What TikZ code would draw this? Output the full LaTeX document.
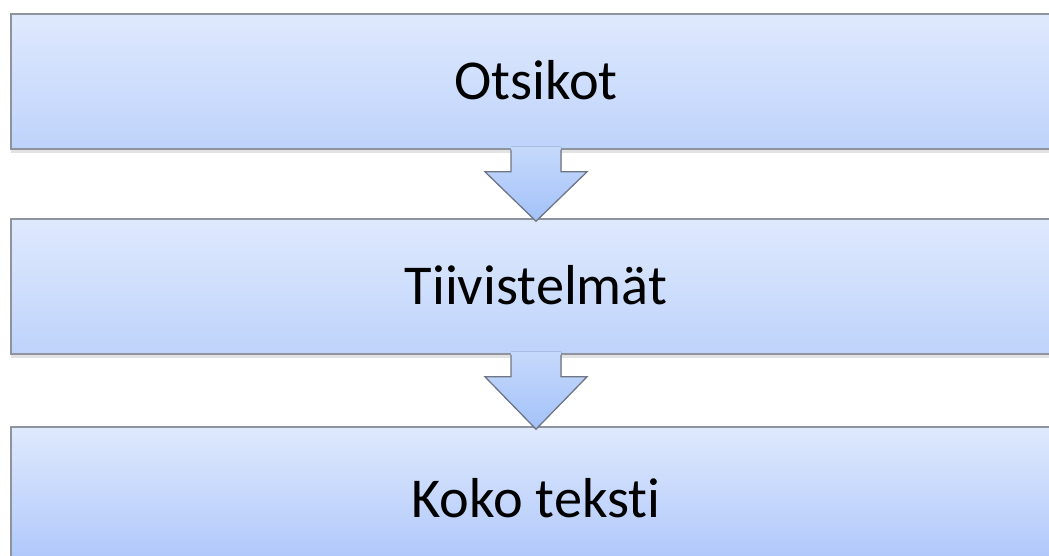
\documentclass[tikz,border=0pt]{standalone}
\usepackage{fontspec}
\setmainfont[Ligatures={NoCommon}]{Carlito}
\usetikzlibrary{calc,shadows}
\definecolor{boxtop}{HTML}{DFE9FD}
\definecolor{boxbot}{HTML}{BED3FB}
\definecolor{boxbotB}{HTML}{ABC5FA}
\definecolor{arrtop}{HTML}{C6D9FB}
\definecolor{arrbot}{HTML}{A3C1F9}
\definecolor{boxline}{HTML}{8E939C}
\definecolor{arrline}{HTML}{6E7686}
\tikzset{
  stagebox/.style={draw=boxline, line width=1.6pt, top color=boxtop, bottom color=boxbot,
    minimum width=1050pt, minimum height=135pt, inner sep=0pt,
    text height=36.2pt, text depth=0pt,
    font=\fontsize{56.3}{62}\selectfont,
    drop shadow={opacity=0.22, shadow xshift=0pt, shadow yshift=-4pt}},
  arrowfill/.style={top color=arrtop, bottom color=arrbot, draw=none},
  arrowline/.style={draw=arrline, line width=1.3pt, line join=miter},
}
\begin{document}
\begin{tikzpicture}[x=1pt,y=-1pt]
\useasboundingbox (0,0) rectangle (1049,556);
\clip (0,0) rectangle (1049,556);
\node[stagebox] (b1) at (536,81.5) {Otsikot};
\node[stagebox] (b2) at (536,286.5) {Tiivistelmät};
\node[stagebox, bottom color=boxbotB, minimum height=145pt] (b3) at (536,499.5) {Koko teksti};
\foreach \a/\b in {b1/b2, b2/b3} {
  \coordinate (s) at (\a.south);
  \coordinate (t) at (\b.north);
  \fill[arrowfill] ($(s)+(-25,-3)$) -- ($(s)+(-25,22)$) -- ($(s)+(-51,22)$) -- ($(t)+(0,3)$)
     -- ($(s)+(51,22)$) -- ($(s)+(25,22)$) -- ($(s)+(25,-3)$) -- cycle;
  \draw[arrowline] ($(s)+(-25,0)$) -- ($(s)+(-25,22)$) -- ($(s)+(-51,22)$) -- ($(t)+(0,3)$)
     -- ($(s)+(51,22)$) -- ($(s)+(25,22)$) -- ($(s)+(25,0)$);
}
\end{tikzpicture}
\end{document}
